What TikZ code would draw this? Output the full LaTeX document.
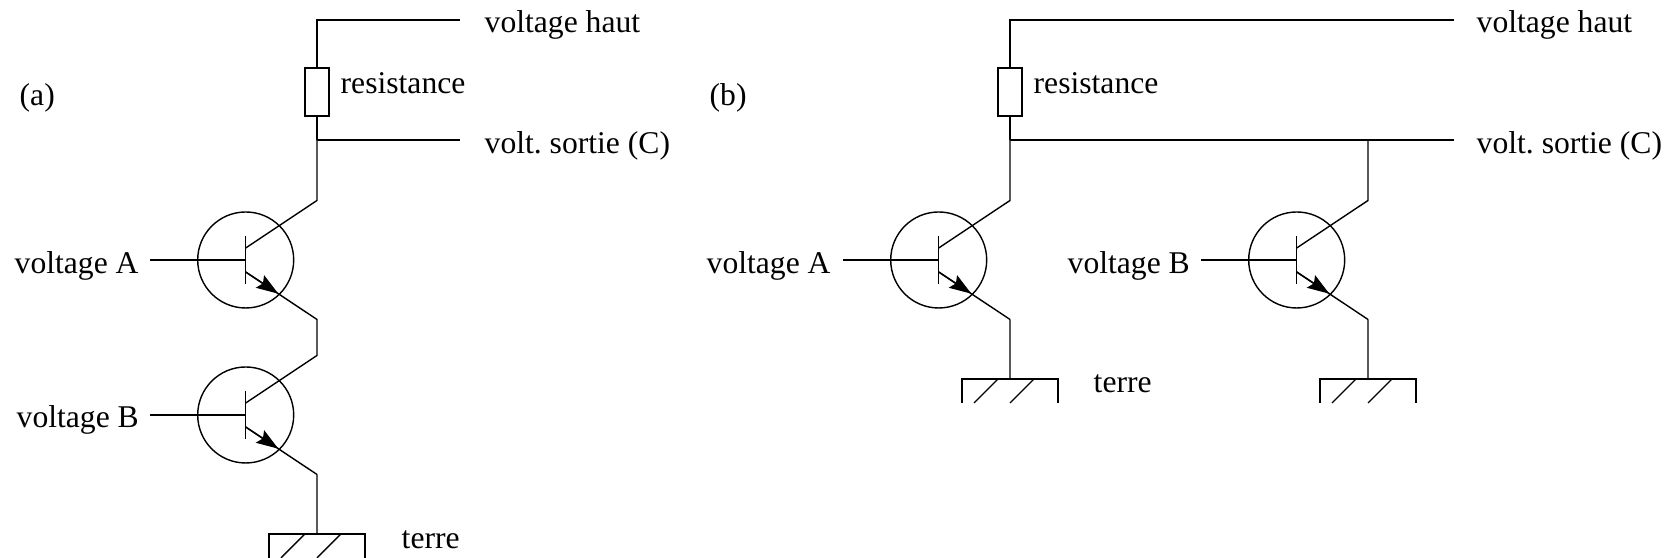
\documentclass[tikz,border=0pt]{standalone}
\usepackage{fontspec}
\setmainfont{Liberation Serif}
\usetikzlibrary{arrows.meta}
\frenchspacing
\tikzset{
    wire/.style={black, line width=0.4pt, line join=miter},
    txt/.style={anchor=base west, inner sep=0, font=\fontsize{9}{11}\selectfont},
    transistor/.style={draw, wire, circle, minimum size=0.96cm, inner sep=0},
    resistor/.style={draw, wire, rectangle, minimum width=0.24cm, minimum height=0.48cm, inner sep=0},
    tip/.style={wire, -{Stealth[length=0.22cm, width=0.15cm, inset=0.035cm]}}
}
\begin{document}
\begin{tikzpicture}
    \useasboundingbox (0,0) rectangle (16.68,5.58);

    % panel a
    \node[txt] (labela) at (0.19,4.52) {(a)};
    \coordinate (top1) at (3.17,5.38);
    \coordinate (hi1) at (4.6,5.38);
    \coordinate (out1) at (3.17,4.18);
    \coordinate (so1) at (4.6,4.18);
    \node[resistor] (R1) at (3.17,4.66) {};
    \node[txt] (Rt1) at (3.40,4.64) {resistance};
    \node[txt] (vh1) at (4.84,5.25) {voltage haut};
    \node[txt] (vs1) at (4.84,4.04) {volt. sortie (C)};

    \draw[wire] (hi1) -- (top1) -- (R1.north);
    \draw[wire] (R1.south) -- (out1);
    \draw[wire] (out1) -- (so1);

    \begin{scope}[shift={(2.457,2.98)}]
        \node[transistor] (T1) at (0,0) {};
        \coordinate (T1b) at (-0.955,0);
        \coordinate (T1m) at (0,0);
        \coordinate (T1u) at (0,0.24);
        \coordinate (T1d) at (0,-0.24);
        \coordinate (T1c) at (0,0.12);
        \coordinate (T1k) at (0.713,0.595);
        \coordinate (T1e) at (0,-0.12);
        \coordinate (T1a) at (0.326,-0.337);
        \coordinate (T1o) at (0.713,-0.595);
    \end{scope}
    \begin{scope}[shift={(2.457,1.43)}]
        \node[transistor] (T2) at (0,0) {};
        \coordinate (T2b) at (-0.955,0);
        \coordinate (T2m) at (0,0);
        \coordinate (T2u) at (0,0.24);
        \coordinate (T2d) at (0,-0.24);
        \coordinate (T2c) at (0,0.12);
        \coordinate (T2k) at (0.713,0.595);
        \coordinate (T2e) at (0,-0.12);
        \coordinate (T2a) at (0.326,-0.337);
        \coordinate (T2o) at (0.713,-0.595);
    \end{scope}
    \node[txt] (va1) at (0.14,2.84) {voltage A};
    \node[txt] (vb1) at (0.16,1.30) {voltage B};

    \draw[wire] (out1) -- (T1k) -- (T1c);
    \draw[wire] (T1u) -- (T1d);
    \draw[wire] (T1b) -- (T1m);
    \draw[wire] (T1e) -- (T1o) -- (T2k) -- (T2c);
    \draw[tip] (T1e) -- (T1a);
    \draw[wire] (T2u) -- (T2d);
    \draw[wire] (T2b) -- (T2m);
    \draw[wire] (T2e) -- (T2o);
    \draw[tip] (T2e) -- (T2a);

    \begin{scope}[shift={(3.17,0.24)}]
        \coordinate (G1) at (0,0);
        \draw[wire] (-0.48,-0.24) -- (-0.48,0) -- (0.48,0) -- (0.48,-0.24);
        \draw[wire] (-0.36,-0.24) -- (-0.12,0);
        \draw[wire] (0,-0.24) -- (0.24,0);
    \end{scope}
    \draw[wire] (T2o) -- (G1);
    \node[txt] (ter1) at (4.01,0.09) {terre};

    % panel b
    \node[txt] (labelb) at (7.09,4.52) {(b)};
    \coordinate (top2) at (10.10,5.38);
    \coordinate (hi2) at (14.54,5.38);
    \coordinate (out2) at (10.10,4.18);
    \coordinate (out3) at (13.68,4.18);
    \coordinate (so2) at (14.54,4.18);
    \node[resistor] (R2) at (10.10,4.66) {};
    \node[txt] (Rt2) at (10.33,4.64) {resistance};
    \node[txt] (vh2) at (14.76,5.25) {voltage haut};
    \node[txt] (vs2) at (14.76,4.04) {volt. sortie (C)};

    \draw[wire] (hi2) -- (top2) -- (R2.north);
    \draw[wire] (R2.south) -- (out2);
    \draw[wire] (out2) -- (out3) -- (so2);

    \begin{scope}[shift={(9.387,2.98)}]
        \node[transistor] (T3) at (0,0) {};
        \coordinate (T3b) at (-0.955,0);
        \coordinate (T3m) at (0,0);
        \coordinate (T3u) at (0,0.24);
        \coordinate (T3d) at (0,-0.24);
        \coordinate (T3c) at (0,0.12);
        \coordinate (T3k) at (0.713,0.595);
        \coordinate (T3e) at (0,-0.12);
        \coordinate (T3a) at (0.326,-0.337);
        \coordinate (T3o) at (0.713,-0.595);
    \end{scope}
    \begin{scope}[shift={(12.967,2.98)}]
        \node[transistor] (T4) at (0,0) {};
        \coordinate (T4b) at (-0.955,0);
        \coordinate (T4m) at (0,0);
        \coordinate (T4u) at (0,0.24);
        \coordinate (T4d) at (0,-0.24);
        \coordinate (T4c) at (0,0.12);
        \coordinate (T4k) at (0.713,0.595);
        \coordinate (T4e) at (0,-0.12);
        \coordinate (T4a) at (0.326,-0.337);
        \coordinate (T4o) at (0.713,-0.595);
    \end{scope}
    \node[txt] (va2) at (7.06,2.84) {voltage A};
    \node[txt] (vb2) at (10.67,2.84) {voltage B};

    \draw[wire] (out2) -- (T3k) -- (T3c);
    \draw[wire] (T3u) -- (T3d);
    \draw[wire] (T3b) -- (T3m);
    \draw[wire] (T3e) -- (T3o);
    \draw[tip] (T3e) -- (T3a);
    \draw[wire] (out3) -- (T4k) -- (T4c);
    \draw[wire] (T4u) -- (T4d);
    \draw[wire] (T4b) -- (T4m);
    \draw[wire] (T4e) -- (T4o);
    \draw[tip] (T4e) -- (T4a);

    \begin{scope}[shift={(10.10,1.79)}]
        \coordinate (G2) at (0,0);
        \draw[wire] (-0.48,-0.24) -- (-0.48,0) -- (0.48,0) -- (0.48,-0.24);
        \draw[wire] (-0.36,-0.24) -- (-0.12,0);
        \draw[wire] (0,-0.24) -- (0.24,0);
    \end{scope}
    \begin{scope}[shift={(13.68,1.79)}]
        \coordinate (G3) at (0,0);
        \draw[wire] (-0.48,-0.24) -- (-0.48,0) -- (0.48,0) -- (0.48,-0.24);
        \draw[wire] (-0.36,-0.24) -- (-0.12,0);
        \draw[wire] (0,-0.24) -- (0.24,0);
    \end{scope}
    \draw[wire] (T3o) -- (G2);
    \draw[wire] (T4o) -- (G3);
    \node[txt] (ter2) at (10.93,1.65) {terre};
\end{tikzpicture}
\end{document}
